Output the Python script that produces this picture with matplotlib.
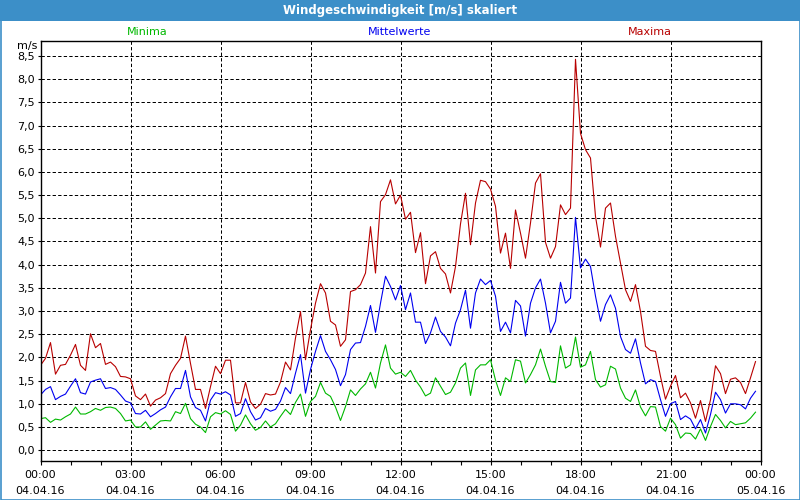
import numpy as np
import pandas as pd
import matplotlib
matplotlib.use("Agg")
import matplotlib.pyplot as plt
import matplotlib.dates as mdates
from matplotlib.ticker import FuncFormatter, MultipleLocator
from matplotlib.patches import Rectangle

# 10-minute values, 04.04.16 00:00 .. 23:50
maxima = [
    1.83, 1.98, 2.32, 1.64, 1.83, 1.85, 2.05, 2.28, 1.83, 1.72, 2.51, 2.21, 2.30,
    1.85, 1.90, 1.80, 1.59, 1.58, 1.54, 1.17, 1.09, 1.21, 0.95, 1.08, 1.13, 1.22,
    1.65, 1.83, 1.98, 2.46, 1.87, 1.31, 1.31, 0.90, 1.37, 1.81, 1.65, 1.94, 1.94,
    1.02, 1.02, 1.46, 1.04, 0.90, 0.99, 1.22, 1.19, 1.21, 1.47, 1.90,
    1.73, 2.42, 2.99, 1.95, 2.60, 3.17, 3.59, 3.39, 2.78, 2.70, 2.24, 2.38, 3.42,
    3.46, 3.57, 3.82, 4.82, 3.82, 5.36, 5.51, 5.83, 5.31, 5.50, 4.98,
    5.13, 4.26, 4.69, 3.59, 4.19, 4.28, 3.92, 3.80, 3.39, 3.96, 4.88, 5.54, 4.43,
    5.33, 5.82, 5.79, 5.63, 5.26, 4.25, 4.68, 3.92, 5.18, 4.68, 4.14,
    4.90, 5.76, 5.96, 4.48, 4.14, 4.39, 5.29, 5.08, 5.22, 8.43, 6.83, 6.48, 6.30,
    5.04, 4.38, 5.22, 5.33, 4.61, 4.03, 3.46, 3.21, 3.57, 2.99, 2.24,
    2.15, 2.13, 1.59, 1.10, 1.38, 1.61, 1.13, 1.23, 1.02, 0.69, 1.07, 0.62, 1.09,
    1.82, 1.65, 1.22, 1.53, 1.56, 1.46, 1.22, 1.56, 1.91,
]
mittelwerte = [
    1.19, 1.31, 1.37, 1.09, 1.16, 1.21, 1.38, 1.54, 1.24, 1.21, 1.47, 1.51, 1.54,
    1.33, 1.35, 1.31, 1.19, 1.06, 1.02, 0.79, 0.78, 0.86, 0.72, 0.79, 0.87, 0.93,
    1.15, 1.33, 1.33, 1.72, 1.15, 0.92, 0.86, 0.63, 1.08, 1.24, 1.21, 1.26, 1.19,
    0.73, 0.79, 1.11, 0.83, 0.65, 0.70, 0.90, 0.84, 0.88, 1.06, 1.35,
    1.22, 1.66, 2.06, 1.23, 1.74, 2.13, 2.47, 2.13, 1.95, 1.74, 1.39, 1.63, 2.17,
    2.31, 2.32, 2.67, 3.12, 2.54, 3.17, 3.75, 3.53, 3.24, 3.55, 3.03,
    3.39, 2.76, 2.76, 2.30, 2.53, 2.87, 2.56, 2.44, 2.25, 2.74, 3.03, 3.45, 2.63,
    3.39, 3.69, 3.57, 3.66, 3.32, 2.56, 2.76, 2.53, 3.23, 3.11, 2.46,
    3.17, 3.50, 3.69, 3.17, 2.53, 2.78, 3.62, 3.17, 3.28, 5.02, 3.93, 4.12, 3.96,
    3.32, 2.78, 3.14, 3.35, 3.06, 2.45, 2.17, 2.09, 2.40, 1.88, 1.43,
    1.52, 1.48, 1.09, 0.73, 1.00, 1.05, 0.66, 0.74, 0.67, 0.46, 0.66, 0.37, 0.77,
    1.25, 1.09, 0.80, 1.00, 1.00, 0.98, 0.89, 1.12, 1.27,
]
minima = [
    0.68, 0.70, 0.60, 0.67, 0.65, 0.72, 0.78, 0.93, 0.78, 0.78, 0.83, 0.90, 0.86,
    0.92, 0.93, 0.90, 0.79, 0.63, 0.65, 0.50, 0.50, 0.61, 0.45, 0.54, 0.63, 0.64,
    0.63, 0.83, 0.79, 1.01, 0.68, 0.56, 0.50, 0.38, 0.72, 0.81, 0.78, 0.85, 0.77,
    0.41, 0.54, 0.76, 0.57, 0.43, 0.49, 0.63, 0.50, 0.57, 0.73, 0.88,
    0.77, 1.03, 1.21, 0.73, 1.05, 1.16, 1.46, 1.23, 1.16, 0.93, 0.64, 0.94, 1.30,
    1.18, 1.32, 1.43, 1.68, 1.34, 1.88, 2.27, 1.77, 1.64, 1.68, 1.59,
    1.72, 1.51, 1.36, 1.17, 1.23, 1.56, 1.38, 1.20, 1.25, 1.45, 1.77, 1.88, 1.18,
    1.73, 1.84, 1.84, 1.95, 1.51, 1.18, 1.56, 1.48, 1.95, 1.92, 1.45,
    1.63, 1.84, 2.18, 1.81, 1.48, 1.46, 2.25, 1.77, 1.84, 2.44, 1.79, 1.84, 2.13,
    1.52, 1.36, 1.41, 1.81, 1.75, 1.34, 1.12, 1.05, 1.30, 0.93, 0.74,
    0.94, 0.93, 0.51, 0.41, 0.69, 0.55, 0.26, 0.37, 0.36, 0.24, 0.46, 0.21, 0.51,
    0.77, 0.64, 0.48, 0.62, 0.55, 0.57, 0.59, 0.69, 0.82,
]

times = pd.date_range("2016-04-04 00:00", periods=len(maxima), freq="10min")
start = pd.Timestamp("2016-04-04 00:00")
end = pd.Timestamp("2016-04-05 00:00")

series_names = ["Minima", "Mittelwerte", "Maxima"]
series_colors = ["#00b800", "#0000f0", "#b80000"]

plt.rcParams["font.family"] = ["DejaVu Sans"]
plt.rcParams["lines.scale_dashes"] = False

W, H = 800, 500
fig = plt.figure(figsize=(8, 5), dpi=100, facecolor="white")

# title bar + outer frame
blue = "#3c8fc8"
fig.patches.append(Rectangle((0, 1 - 21 / H), 1, 21 / H, transform=fig.transFigure,
                             facecolor=blue, edgecolor="none", zorder=0))
fig.patches.append(Rectangle((0.5 / W, 0.5 / H), 1 - 1 / W, 1 - 1 / H, transform=fig.transFigure,
                             facecolor="none", edgecolor=blue, lw=1.2, zorder=5))
fig.text(0.5, 1 - 10.5 / H, "Windgeschwindigkeit [m/s] skaliert", color="white",
         fontsize=8.5, fontweight="bold", ha="center", va="center")

left, right, top, bottom = 40.5, 760.5, 40.7, 460.7
ax = fig.add_axes([left / W, 1 - bottom / H, (right - left) / W, (bottom - top) / H])

for vals, color in zip([minima, mittelwerte, maxima], series_colors):
    ax.plot(times, vals, color=color, lw=0.8)

ax.set_xlim(start, end)
ax.set_ylim(-0.227, 8.83)

ax.xaxis.set_major_locator(mdates.HourLocator(byhour=range(0, 24, 3)))
ax.xaxis.set_minor_locator(mdates.HourLocator())
ax.xaxis.set_major_formatter(mdates.DateFormatter("%H:%M\n%d.%m.%y"))
ax.yaxis.set_major_locator(MultipleLocator(0.5))
ax.yaxis.set_major_formatter(FuncFormatter(lambda v, p: f"{v:.1f}".replace(".", ",")))

ax.grid(True, which="major", color="black", lw=0.72, linestyle=(0, (2.4, 1.6)))
ax.tick_params(axis="x", which="both", direction="out", length=3, width=0.8,
               labelsize=8, pad=4)
ax.tick_params(axis="y", direction="out", length=2, width=0.8, labelsize=8, pad=2)
for lab in ax.get_xticklabels():
    lab.set_linespacing(1.7)
for s in ax.spines.values():
    s.set_linewidth(1)

fig.text(37 / W, 1 - 46 / H, "m/s", fontsize=8, ha="right", va="center")

for name, color, xc in zip(series_names, series_colors, [147, 400, 650]):
    fig.text(xc / W, 1 - 32 / H, name, color=color, fontsize=8, ha="center", va="center")

fig.savefig("out.png", dpi=100, facecolor=fig.get_facecolor())
